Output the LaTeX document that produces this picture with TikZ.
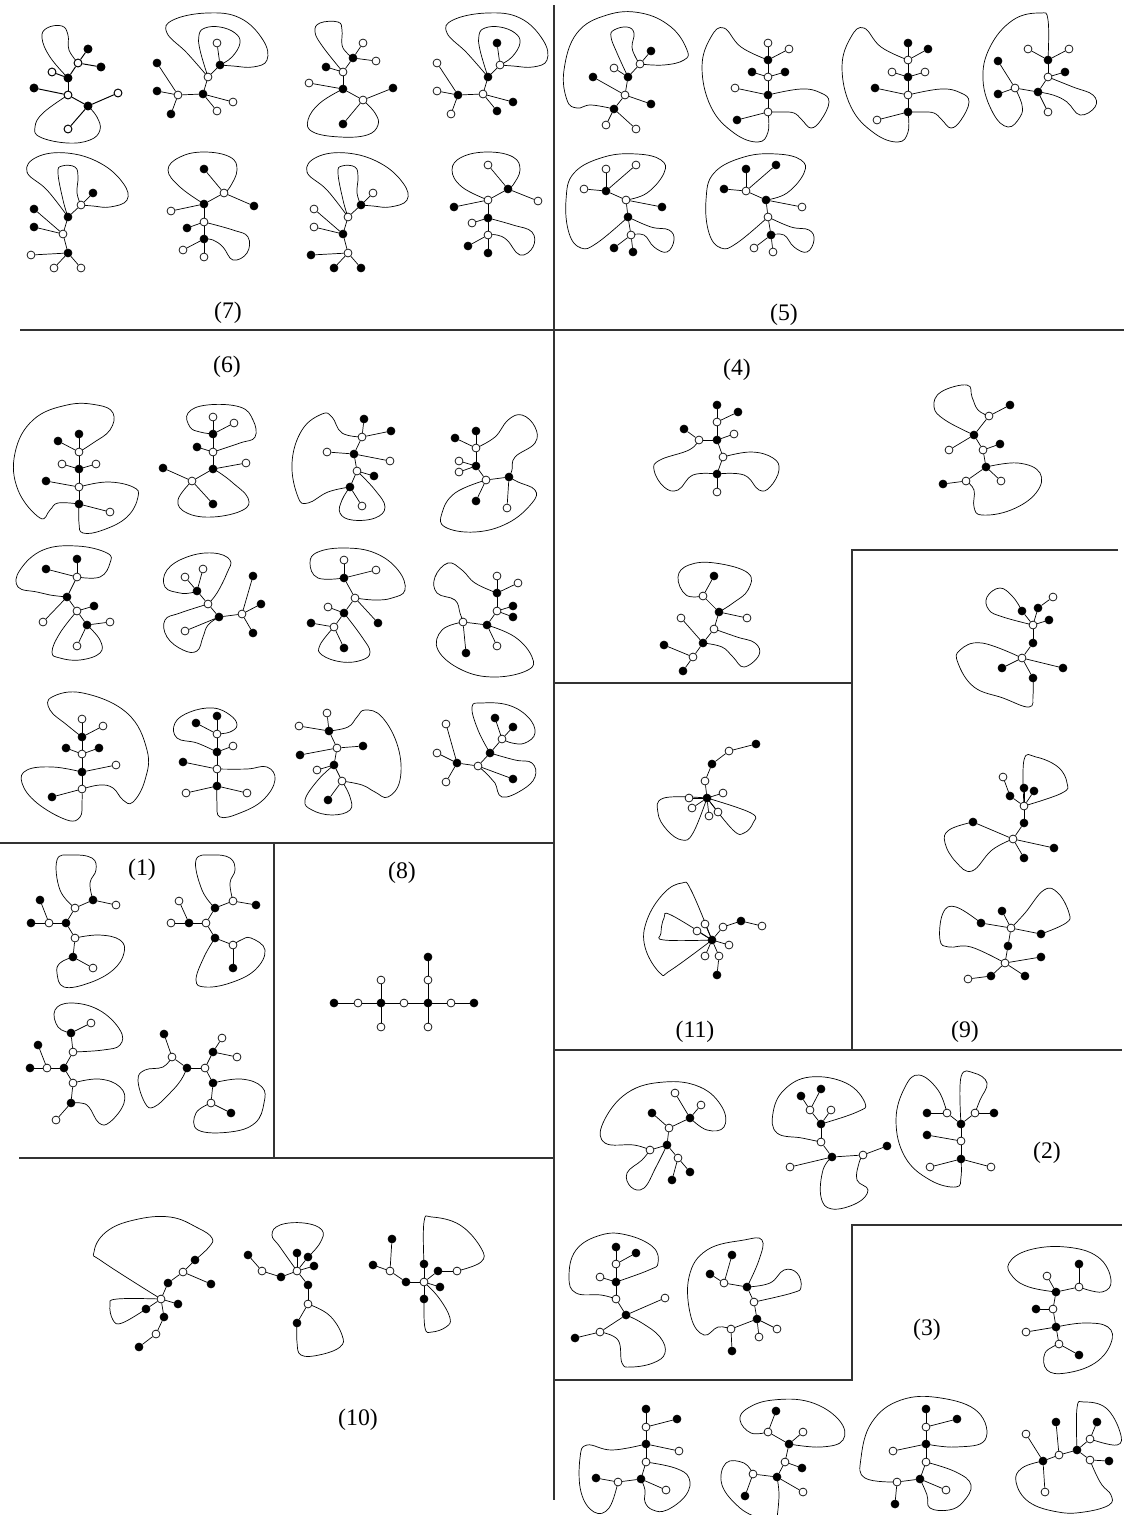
\documentclass[tikz,border=0pt]{standalone}
\usepackage{fontspec}
\setmainfont{Liberation Serif}
\pgfdeclarelayer{bg}
\pgfsetlayers{bg,main}
\tikzset{
  bv/.style={circle,draw,fill=black,inner sep=0pt,minimum size=4.5pt},
  wv/.style={circle,draw,fill=white,inner sep=0pt,minimum size=4.5pt},
  frame/.style={line width=0.8pt,black!80},
  lab/.style={font=\fontsize{13.5}{15}\selectfont},
}
% closing curve of a tree, from node #1 through #2 to node #3
\newcommand\rim[3]{\begin{pgfonlayer}{bg}\draw plot[smooth,tension=0.7] coordinates {(#1.center) #2 (#3.center)};\end{pgfonlayer}}
\begin{document}
\begin{tikzpicture}[x=0.02cm,y=-0.02cm,line width=0.55pt]
	\useasboundingbox (0,0) rectangle (1127,1515);
	%%%%%%%% frames
	\draw[frame] (554,5) -- (554,1500);
	\draw[frame] (20,330) -- (1124,330);
	\draw[frame] (0,843) -- (554,843);
	\draw[frame] (274,843) -- (274,1158);
	\draw[frame] (19,1158) -- (554,1158);
	\draw[frame] (1118,550) -- (852,550) -- (852,1050);
	\draw[frame] (554,683) -- (852,683);
	\draw[frame] (554,1050) -- (1122,1050);
	\draw[frame] (1122,1225) -- (852,1225) -- (852,1380) -- (554,1380);
	%%%%%%%% labels
	\node[lab] (l7) at (228,313) {(7)};
	\node[lab] (l5) at (784,315) {(5)};
	\node[lab] (l6) at (227,367) {(6)};
	\node[lab] (l4) at (737,370) {(4)};
	\node[lab] (l1) at (142,870) {(1)};
	\node[lab] (l8) at (402,873) {(8)};
	\node[lab] (l11) at (695,1032) {(11)};
	\node[lab] (l9) at (965,1032) {(9)};
	\node[lab] (l10) at (358,1420) {(10)};
	\node[lab] (l2) at (1047,1153) {(2)};
	\node[lab] (l3) at (927,1330) {(3)};
	%%%%%%%% (7)
	\node[wv] (w1) at (78,63) {}; \node[bv] (b1) at (88,49) {}; \node[bv] (b2) at (101,67) {};
	\node[wv] (w2) at (52,72) {}; \node[bv] (b3) at (68,78) {}; \node[bv] (b4) at (34,88) {};
	\node[wv] (w3) at (68,95) {}; \node[wv] (w4) at (118,93) {}; \node[bv] (b5) at (88,106) {};
	\node[wv] (w5) at (68,129) {};
	\foreach \u/\v in {w1/b1,w1/b2,w1/b3,w2/b3,b3/w3,b4/w3,w3/b5,b5/w4,b5/w5} \draw (\u)--(\v);
	\rim{b3}{(50,57) (42,38) (47,28) (62,26) (68,35) (69,50)}{w1}
	\rim{w3}{(43,113) (35,127) (40,137) (67,143) (90,140) (100,130) (97,117)}{b5}
	%
	\node[wv] (w0) at (217,43) {}; \node[bv] (b1) at (220,65) {}; \node[wv] (w1) at (208,77) {};
	\node[bv] (b2) at (157,63) {}; \node[bv] (b3) at (157,91) {}; \node[wv] (w2) at (178,95) {};
	\node[bv] (b4) at (171,114) {}; \node[bv] (b5) at (203,94) {}; \node[wv] (w3) at (233,102) {};
	\node[wv] (w4) at (217,111) {};
	\foreach \u/\v in {w0/b1,b1/w1,w1/b5,b5/w2,w2/b2,w2/b3,w2/b4,b5/w3,b5/w4} \draw (\u)--(\v);
	\rim{w1}{(187,53) (167,33) (173,20) (207,13) (240,18) (263,40) (267,60) (253,67) (233,66)}{b1}
	\rim{w1}{(200,50) (199,35) (205,28) (220,27) (235,33) (240,43) (232,57)}{b1}
	%
	\node[wv] (w1) at (363,43) {}; \node[bv] (b1) at (353,58) {}; \node[wv] (w2) at (376,61) {};
	\node[bv] (b2) at (326,67) {}; \node[wv] (w3) at (343,72) {}; \node[wv] (w4) at (309,83) {};
	\node[bv] (b3) at (343,89) {}; \node[bv] (b4) at (393,88) {}; \node[wv] (w5) at (363,100) {};
	\node[bv] (b5) at (343,124) {};
	\foreach \u/\v in {b1/w1,b1/w2,b1/w3,b2/w3,w3/b3,w4/b3,b3/w5,w5/b4,w5/b5} \draw (\u)--(\v);
	\rim{w3}{(323,47) (315,32) (320,23) (338,22) (342,30) (342,45) (347,53)}{b1}
	\rim{b3}{(320,103) (308,120) (313,132) (340,137) (367,135) (378,125) (375,113)}{w5}
	%
	\node[bv] (b0) at (497,43) {}; \node[wv] (w1) at (500,65) {}; \node[bv] (b1) at (488,77) {};
	\node[wv] (w2) at (437,63) {}; \node[wv] (w3) at (437,91) {}; \node[bv] (b2) at (458,95) {};
	\node[wv] (w4) at (451,114) {}; \node[wv] (w5) at (483,94) {}; \node[bv] (b3) at (513,102) {};
	\node[bv] (b4) at (497,111) {};
	\foreach \u/\v in {b0/w1,w1/b1,b1/w5,w5/b2,b2/w2,b2/w3,b2/w4,w5/b3,w5/b4} \draw (\u)--(\v);
	\rim{b1}{(467,53) (447,33) (453,20) (487,13) (520,18) (543,40) (547,60) (533,67) (513,66)}{w1}
	\rim{b1}{(480,50) (479,35) (485,28) (500,27) (515,33) (520,43) (512,57)}{w1}
	%
	\node[bv] (b1) at (93,193) {}; \node[wv] (w1) at (81,205) {}; \node[bv] (b2) at (68,217) {};
	\node[bv] (b3) at (34,209) {}; \node[bv] (b4) at (34,227) {}; \node[wv] (w2) at (63,234) {};
	\node[bv] (b5) at (68,253) {}; \node[wv] (w3) at (31,255) {}; \node[wv] (w4) at (54,268) {};
	\node[wv] (w5) at (81,268) {};
	\foreach \u/\v in {b1/w1,w1/b2,b2/w2,b3/w2,b4/w2,w2/b5,b5/w3,b5/w4,b5/w5} \draw (\u)--(\v);
	\rim{b2}{(47,190) (27,172) (37,157) (67,153) (100,163) (123,183) (127,200) (110,207) (93,206)}{w1}
	\rim{b2}{(63,200) (58,173) (62,166) (75,167) (78,177) (77,193)}{w1}
	%
	\node[bv] (b1) at (204,169) {}; \node[wv] (w1) at (224,193) {}; \node[bv] (b2) at (254,206) {};
	\node[bv] (b3) at (204,204) {}; \node[wv] (w2) at (171,211) {}; \node[wv] (w3) at (204,222) {};
	\node[bv] (b4) at (187,228) {}; \node[bv] (b5) at (204,239) {}; \node[wv] (w4) at (183,250) {};
	\node[wv] (w5) at (204,257) {};
	\foreach \u/\v in {b1/w1,w1/b2,w1/b3,b3/w2,b3/w3,w3/b4,w3/b5,b5/w4,b5/w5} \draw (\u)--(\v);
	\rim{b3}{(180,187) (168,170) (180,157) (204,152) (230,157) (237,170) (230,187)}{w1}
	\rim{w3}{(233,230) (248,237) (247,253) (233,260) (223,247) (213,240)}{b5}
	%
	\node[wv] (w1) at (373,193) {}; \node[bv] (b1) at (361,205) {}; \node[wv] (w2) at (348,217) {};
	\node[wv] (w3) at (314,209) {}; \node[wv] (w4) at (314,227) {}; \node[bv] (b2) at (343,234) {};
	\node[wv] (w5) at (348,253) {}; \node[bv] (b3) at (311,255) {}; \node[bv] (b4) at (334,268) {};
	\node[bv] (b5) at (361,268) {};
	\foreach \u/\v in {w1/b1,b1/w2,w2/b2,w3/b2,w4/b2,b2/w5,w5/b3,w5/b4,w5/b5} \draw (\u)--(\v);
	\rim{w2}{(327,190) (307,172) (317,157) (347,153) (380,163) (403,183) (407,200) (390,207) (373,206)}{b1}
	\rim{w2}{(343,200) (338,173) (342,166) (355,167) (358,177) (357,193)}{b1}
	%
	\node[wv] (w1) at (488,165) {}; \node[bv] (b1) at (508,189) {}; \node[wv] (w2) at (538,201) {};
	\node[wv] (w3) at (488,200) {}; \node[bv] (b2) at (454,207) {}; \node[wv] (w4) at (472,223) {};
	\node[bv] (b3) at (488,218) {}; \node[wv] (w5) at (488,235) {}; \node[bv] (b4) at (468,246) {};
	\node[bv] (b5) at (488,253) {};
	\foreach \u/\v in {w1/b1,b1/w2,b1/w3,w3/b2,w3/b3,b3/w4,b3/w5,w5/b4,w5/b5} \draw (\u)--(\v);
	\rim{w3}{(462,187) (452,170) (462,157) (488,152) (513,157) (520,170) (513,185)}{b1}
	\rim{b3}{(513,225) (532,232) (533,247) (520,255) (507,240) (497,235)}{w5}
	%%%%%%%% (5)
	\node[bv] (b1) at (651,51) {}; \node[wv] (w1) at (640,64) {}; \node[wv] (w2) at (614,68) {};
	\node[bv] (b2) at (628,77) {}; \node[bv] (b3) at (593,77) {}; \node[wv] (w3) at (625,95) {};
	\node[bv] (b4) at (651,104) {}; \node[bv] (b5) at (614,109) {}; \node[wv] (w4) at (606,125) {};
	\node[wv] (w5) at (636,129) {};
	\foreach \u/\v in {b1/w1,w1/b2,w2/b2,b2/w3,b3/w3,w3/b4,w3/b5,b5/w4,b5/w5} \draw (\u)--(\v);
	\rim{b5}{(591,105) (577,108) (567,100) (564,70) (577,33) (607,15) (641,13) (671,27) (687,50) (684,60) (664,65)}{w1}
	\rim{b2}{(617,53) (611,37) (614,30) (627,27) (634,33) (632,47) (636,58)}{w1}
	%
	\node[wv] (w1) at (768,43) {}; \node[wv] (w2) at (789,49) {}; \node[bv] (b1) at (768,60) {};
	\node[bv] (b2) at (752,72) {}; \node[wv] (w3) at (768,77) {}; \node[bv] (b3) at (785,72) {};
	\node[wv] (w4) at (735,88) {}; \node[bv] (b4) at (768,95) {}; \node[wv] (w5) at (768,112) {};
	\node[bv] (b5) at (737,120) {};
	\foreach \u/\v in {w1/b1,w2/b1,b1/w3,b2/w3,b3/w3,w3/b4,w4/b4,b4/w5,b5/w5} \draw (\u)--(\v);
	\rim{b1}{(741,47) (724,28) (711,37) (702,67) (711,107) (734,133) (758,142) (768,132)}{w5}
	\rim{b4}{(801,89) (821,93) (829,102) (821,120) (811,128) (802,120) (794,113) (781,112)}{w5}
	%
	\node[bv] (b1) at (908,43) {}; \node[bv] (b2) at (928,49) {}; \node[wv] (w1) at (908,60) {};
	\node[wv] (w2) at (892,72) {}; \node[bv] (b3) at (908,77) {}; \node[wv] (w3) at (925,72) {};
	\node[bv] (b4) at (875,88) {}; \node[wv] (w4) at (908,95) {}; \node[bv] (b5) at (908,112) {};
	\node[wv] (w5) at (877,120) {};
	\foreach \u/\v in {b1/w1,b2/w1,w1/b3,w2/b3,w3/b3,b3/w4,b4/w4,w4/b5,w5/b5} \draw (\u)--(\v);
	\rim{w1}{(881,47) (864,28) (851,37) (842,67) (851,107) (874,133) (898,142) (908,132)}{b5}
	\rim{w4}{(941,89) (961,93) (969,102) (961,120) (951,128) (942,120) (934,113) (921,112)}{b5}
	%
	\node[wv] (w1) at (1028,49) {}; \node[wv] (w2) at (1069,49) {}; \node[bv] (b1) at (1048,60) {};
	\node[bv] (b2) at (1065,72) {}; \node[wv] (w3) at (1048,77) {}; \node[bv] (b3) at (998,61) {};
	\node[bv] (b4) at (998,94) {}; \node[wv] (w4) at (1015,88) {}; \node[bv] (b5) at (1038,92) {};
	\node[wv] (w5) at (1048,112) {};
	\foreach \u/\v in {w1/b1,w2/b1,b1/w3,b2/w3,w3/b5,b5/w4,w4/b3,w4/b4,b5/w5} \draw (\u)--(\v);
	\rim{b1}{(1048,20) (1040,13) (1013,20) (990,47) (983,80) (993,113) (1008,127) (1020,117) (1022,105)}{w4}
	\rim{w3}{(1073,87) (1093,95) (1095,107) (1080,115) (1067,102) (1053,95)}{b5}
	%
	\node[wv] (w1) at (606,169) {}; \node[wv] (w2) at (636,165) {}; \node[wv] (w3) at (584,189) {};
	\node[bv] (b1) at (606,191) {}; \node[wv] (w4) at (626,200) {}; \node[bv] (b2) at (662,207) {};
	\node[bv] (b3) at (628,217) {}; \node[wv] (w5) at (631,235) {}; \node[bv] (b4) at (614,248) {};
	\node[bv] (b5) at (633,252) {};
	\foreach \u/\v in {w1/b1,w2/b1,w3/b1,b1/w4,w4/b2,w4/b3,b3/w5,w5/b4,w5/b5} \draw (\u)--(\v);
	\rim{w4}{(647,193) (664,173) (661,160) (637,154) (604,157) (574,173) (566,200) (569,233) (581,248) (597,243)}{b3}
	\rim{b3}{(651,227) (669,230) (674,240) (667,252) (654,247) (644,235)}{w5}
	%
	\node[bv] (b1) at (746,169) {}; \node[bv] (b2) at (776,165) {}; \node[bv] (b3) at (724,189) {};
	\node[wv] (w1) at (746,191) {}; \node[bv] (b4) at (766,200) {}; \node[wv] (w2) at (802,207) {};
	\node[wv] (w3) at (768,217) {}; \node[bv] (b5) at (771,235) {}; \node[wv] (w4) at (754,248) {};
	\node[wv] (w5) at (773,252) {};
	\foreach \u/\v in {b1/w1,b2/w1,b3/w1,w1/b4,b4/w2,b4/w3,w3/b5,b5/w4,b5/w5} \draw (\u)--(\v);
	\rim{b4}{(787,193) (804,173) (801,160) (777,154) (744,157) (714,173) (706,200) (709,233) (721,248) (737,243)}{w3}
	\rim{w3}{(791,227) (809,230) (814,240) (807,252) (794,247) (784,235)}{b5}
	%%%%%%%% (6)
	\node[bv] (b1) at (79,434) {}; \node[bv] (b2) at (58,441) {}; \node[wv] (w1) at (79,452) {};
	\node[wv] (w2) at (62,464) {}; \node[bv] (b3) at (79,469) {}; \node[wv] (w3) at (96,464) {};
	\node[bv] (b4) at (46,481) {}; \node[wv] (w4) at (79,487) {}; \node[bv] (b5) at (79,504) {};
	\node[wv] (w5) at (110,512) {};
	\foreach \u/\v in {b1/w1,b2/w1,w1/b3,w2/b3,w3/b3,b3/w4,b4/w4,w4/b5,b5/w5} \draw (\u)--(\v);
	\rim{w1}{(93,443) (110,430) (113,413) (97,405) (67,405) (33,420) (15,453) (18,490) (40,518) (50,510) (58,503)}{b5}
	\rim{w4}{(107,482) (133,487) (138,497) (127,517) (103,530) (83,533) (79,523)}{b5}
	%
	\node[wv] (w1) at (213,417) {}; \node[wv] (w2) at (234,423) {}; \node[bv] (b1) at (213,434) {};
	\node[bv] (b2) at (197,447) {}; \node[wv] (w3) at (213,452) {}; \node[wv] (w4) at (246,463) {};
	\node[bv] (b3) at (213,469) {}; \node[bv] (b4) at (163,468) {}; \node[wv] (w5) at (192,481) {};
	\node[bv] (b5) at (213,504) {};
	\foreach \u/\v in {w1/b1,w2/b1,b1/w3,b2/w3,w3/b3,w4/b3,b3/w5,b4/w5,w5/b5} \draw (\u)--(\v);
	\rim{w3}{(240,443) (255,437) (253,420) (240,407) (207,405) (188,413) (190,427) (200,432)}{b1}
	\rim{w5}{(178,500) (187,513) (213,517) (243,510) (248,498) (233,483) (220,473)}{b3}
	%
	\node[bv] (b1) at (364,419) {}; \node[bv] (b2) at (391,431) {}; \node[wv] (w1) at (362,437) {};
	\node[wv] (w2) at (327,452) {}; \node[bv] (b3) at (354,454) {}; \node[wv] (w3) at (390,461) {};
	\node[wv] (w4) at (357,471) {}; \node[bv] (b4) at (374,476) {}; \node[bv] (b5) at (350,487) {};
	\node[wv] (w5) at (362,506) {};
	\foreach \u/\v in {b1/w1,b2/w1,w1/b3,w2/b3,b3/w3,b3/w4,w4/b4,w4/b5,b5/w5} \draw (\u)--(\v);
	\rim{w1}{(342,433) (332,417) (322,414) (302,430) (292,463) (298,497) (308,503) (328,492)}{b5}
	\rim{w4}{(375,490) (385,507) (375,518) (352,520) (340,513) (342,500)}{b5}
	%
	\node[bv] (b1) at (455,438) {}; \node[bv] (b2) at (476,431) {}; \node[wv] (w1) at (476,448) {};
	\node[wv] (w2) at (459,461) {}; \node[wv] (w3) at (459,472) {}; \node[bv] (b3) at (476,466) {};
	\node[wv] (w4) at (486,480) {}; \node[bv] (b4) at (476,501) {}; \node[bv] (b5) at (509,477) {};
	\node[wv] (w5) at (507,508) {};
	\foreach \u/\v in {b1/w1,b2/w1,w1/b3,w2/b3,w3/b3,b3/w4,w4/b4,w4/b5,b5/w5} \draw (\u)--(\v);
	\rim{w1}{(495,437) (508,420) (522,415) (535,427) (535,443) (515,457) (512,470)}{b5}
	\rim{w4}{(455,493) (442,513) (445,527) (475,532) (508,523) (532,503) (535,490) (518,482)}{b5}
	%
	\node[bv] (b1) at (77,559) {}; \node[bv] (b2) at (46,569) {}; \node[wv] (w1) at (77,577) {};
	\node[bv] (b3) at (67,597) {}; \node[wv] (w2) at (43,622) {}; \node[wv] (w3) at (77,611) {};
	\node[bv] (b4) at (94,606) {}; \node[bv] (b5) at (87,625) {}; \node[wv] (w4) at (110,622) {};
	\node[wv] (w5) at (77,646) {};
	\foreach \u/\v in {b1/w1,b2/w1,w1/b3,b3/w2,b3/w3,w3/b4,w3/b5,b5/w4,b5/w5} \draw (\u)--(\v);
	\rim{w1}{(100,577) (110,563) (107,553) (77,546) (43,550) (20,570) (18,587) (37,592) (50,595)}{b3}
	\rim{w3}{(60,633) (52,652) (60,658) (80,660) (100,653) (100,640)}{b5}
	%
	\node[wv] (w1) at (185,577) {}; \node[wv] (w2) at (203,569) {}; \node[bv] (b1) at (197,591) {};
	\node[wv] (w3) at (208,604) {}; \node[bv] (b2) at (219,617) {}; \node[wv] (w4) at (185,631) {};
	\node[wv] (w5) at (242,614) {}; \node[bv] (b3) at (253,576) {}; \node[bv] (b4) at (261,604) {};
	\node[bv] (b5) at (253,633) {};
	\foreach \u/\v in {w1/b1,w2/b1,b1/w3,w3/b2,b2/w4,b2/w5,w5/b3,w5/b4,w5/b5} \draw (\u)--(\v);
	\rim{w3}{(217,593) (227,573) (230,560) (213,553) (187,557) (167,570) (165,587) (180,593) (190,593)}{b1}
	\rim{w3}{(180,613) (165,620) (167,637) (183,650) (197,651) (203,637) (208,625)}{b2}
	%
	\node[wv] (w1) at (344,560) {}; \node[wv] (w2) at (376,570) {}; \node[bv] (b1) at (344,578) {};
	\node[wv] (w3) at (355,598) {}; \node[bv] (b2) at (378,623) {}; \node[wv] (w4) at (328,607) {};
	\node[bv] (b3) at (344,613) {}; \node[bv] (b4) at (311,623) {}; \node[wv] (w5) at (334,627) {};
	\node[bv] (b5) at (344,648) {};
	\foreach \u/\v in {w1/b1,w2/b1,b1/w3,w3/b2,w3/b3,w4/b3,b3/w5,b4/w5,w5/b5} \draw (\u)--(\v);
	\rim{b1}{(318,578) (310,563) (318,552) (345,548) (375,553) (398,570) (405,590) (392,598) (375,600)}{w3}
	\rim{b3}{(362,637) (370,652) (362,660) (342,662) (322,655) (320,645)}{w5}
	%
	\node[wv] (w1) at (497,576) {}; \node[wv] (w2) at (518,583) {}; \node[bv] (b1) at (497,593) {};
	\node[wv] (w3) at (497,611) {}; \node[bv] (b2) at (513,606) {}; \node[bv] (b3) at (513,617) {};
	\node[bv] (b4) at (487,625) {}; \node[wv] (w4) at (463,622) {}; \node[bv] (b5) at (466,653) {};
	\node[wv] (w5) at (497,646) {};
	\foreach \u/\v in {w1/b1,w2/b1,b1/w3,w3/b2,w3/b3,w3/b4,b4/w4,w4/b5,b4/w5} \draw (\u)--(\v);
	\rim{b1}{(475,583) (462,570) (448,563) (435,577) (437,593) (455,600) (460,613)}{w4}
	\rim{w4}{(442,630) (438,650) (462,670) (495,677) (528,670) (532,657) (515,637)}{b4}
	%
	\node[wv] (w1) at (82,719) {}; \node[wv] (w2) at (103,726) {}; \node[bv] (b1) at (82,737) {};
	\node[bv] (b2) at (66,748) {}; \node[wv] (w3) at (82,754) {}; \node[bv] (b3) at (99,748) {};
	\node[wv] (w4) at (116,765) {}; \node[bv] (b4) at (82,772) {}; \node[wv] (w5) at (82,789) {};
	\node[bv] (b5) at (52,797) {};
	\foreach \u/\v in {w1/b1,w2/b1,b1/w3,b2/w3,b3/w3,w3/b4,w4/b4,b4/w5,b5/w5} \draw (\u)--(\v);
	\rim{b1}{(67,725) (50,710) (52,697) (83,693) (127,713) (147,750) (145,780) (133,802) (123,800) (113,788) (100,785)}{w5}
	\rim{b4}{(53,767) (27,770) (22,783) (37,803) (67,820) (80,817) (82,803)}{w5}
	%
	\node[bv] (b1) at (196,723) {}; \node[bv] (b2) at (217,716) {}; \node[wv] (w1) at (217,734) {};
	\node[bv] (b3) at (217,752) {}; \node[wv] (w2) at (233,746) {}; \node[bv] (b4) at (183,762) {};
	\node[wv] (w3) at (217,769) {}; \node[bv] (b5) at (217,786) {}; \node[wv] (w4) at (186,793) {};
	\node[wv] (w5) at (247,793) {};
	\foreach \u/\v in {b1/w1,b2/w1,w1/b3,w2/b3,b3/w3,b4/w3,w3/b5,b5/w4,b5/w5} \draw (\u)--(\v);
	\rim{b3}{(197,743) (177,738) (175,723) (190,712) (213,708) (230,715) (237,725) (230,732)}{w1}
	\rim{w3}{(247,769) (267,767) (275,780) (263,800) (240,813) (220,817) (217,803)}{b5}
	%
	\node[wv] (w1) at (327,713) {}; \node[wv] (w2) at (299,726) {}; \node[bv] (b1) at (329,731) {};
	\node[wv] (w3) at (337,748) {}; \node[bv] (b2) at (363,746) {}; \node[bv] (b3) at (300,755) {};
	\node[bv] (b4) at (334,765) {}; \node[wv] (w4) at (317,770) {}; \node[wv] (w5) at (342,781) {};
	\node[bv] (b5) at (328,800) {};
	\foreach \u/\v in {w1/b1,w2/b1,b1/w3,w3/b2,b3/w3,w3/b4,w4/b4,b4/w5,w5/b5} \draw (\u)--(\v);
	\rim{b1}{(348,727) (357,717) (365,710) (382,717) (398,747) (400,780) (388,797) (375,792) (362,785)}{w5}
	\rim{b4}{(318,780) (305,800) (312,810) (332,815) (350,810) (350,797)}{w5}
	%
	\node[wv] (w1) at (446,724) {}; \node[wv] (w2) at (437,753) {}; \node[bv] (b1) at (457,763) {};
	\node[wv] (w3) at (446,782) {}; \node[wv] (w4) at (478,766) {}; \node[bv] (b2) at (490,753) {};
	\node[wv] (w5) at (502,739) {}; \node[bv] (b3) at (495,718) {}; \node[bv] (b4) at (513,727) {};
	\node[bv] (b5) at (513,779) {};
	\foreach \u/\v in {w1/b1,w2/b1,w3/b1,b1/w4,w4/b2,b2/w5,w5/b3,w5/b4,w4/b5} \draw (\u)--(\v);
	\rim{b2}{(478,730) (472,707) (482,703) (508,705) (528,717) (535,733) (525,743) (512,743)}{w5}
	\rim{b2}{(515,760) (532,763) (535,777) (522,790) (502,797) (495,783) (488,775)}{w4}
	%%%%%%%% (4)
	\node[bv] (b1) at (717,405) {}; \node[bv] (b2) at (738,412) {}; \node[wv] (w1) at (717,422) {};
	\node[bv] (b3) at (684,429) {}; \node[wv] (w2) at (699,440) {}; \node[bv] (b4) at (717,440) {};
	\node[wv] (w3) at (734,434) {}; \node[wv] (w4) at (723,457) {}; \node[bv] (b5) at (717,474) {};
	\node[wv] (w5) at (717,492) {};
	\foreach \u/\v in {b1/w1,b2/w1,w1/b4,w2/b4,w3/b4,b3/w2,b4/w4,w4/b5,b5/w5} \draw (\u)--(\v);
	\rim{w2}{(689,450) (660,460) (654,470) (664,487) (678,490) (693,475)}{b5}
	\rim{w4}{(751,452) (773,458) (779,470) (770,487) (759,490) (744,475)}{b5}
	%
	\node[bv] (b1) at (1010,405) {}; \node[wv] (w1) at (989,416) {}; \node[bv] (b2) at (974,435) {};
	\node[wv] (w2) at (949,450) {}; \node[wv] (w3) at (983,450) {}; \node[bv] (b3) at (1000,444) {};
	\node[bv] (b4) at (986,467) {}; \node[wv] (w4) at (966,481) {}; \node[bv] (b5) at (943,484) {};
	\node[wv] (w5) at (1001,481) {};
	\foreach \u/\v in {b1/w1,w1/b2,b2/w2,b2/w3,w3/b3,w3/b4,b4/w4,w4/b5,b4/w5} \draw (\u)--(\v);
	\rim{b2}{(945,420) (934,407) (941,392) (967,385) (972,397) (978,410)}{w1}
	\rim{b4}{(1018,463) (1040,473) (1036,493) (1011,510) (982,515) (974,507) (974,490)}{w4}
	%
	\node[bv] (b1) at (714,576) {}; \node[wv] (w1) at (703,596) {}; \node[bv] (b2) at (719,612) {};
	\node[wv] (w2) at (747,618) {}; \node[wv] (w3) at (681,618) {}; \node[wv] (w4) at (714,629) {};
	\node[bv] (b3) at (703,643) {}; \node[bv] (b4) at (664,645) {}; \node[wv] (w5) at (693,657) {};
	\node[bv] (b5) at (683,671) {};
	\foreach \u/\v in {b1/w1,w1/b2,b2/w2,b2/w4,w4/b3,w3/b3,b3/w5,b4/w5,w5/b5} \draw (\u)--(\v);
	\rim{w1}{(686,595) (678,577) (689,565) (715,563) (748,573) (748,590) (733,603)}{b2}
	\rim{w4}{(737,637) (755,643) (759,655) (744,667) (733,657) (722,647)}{b3}
	%%%%%%%% (9)
	\node[wv] (w1) at (1053,597) {}; \node[bv] (b1) at (1038,608) {}; \node[bv] (b2) at (1022,611) {};
	\node[bv] (b3) at (1049,620) {}; \node[wv] (w2) at (1033,625) {}; \node[bv] (b4) at (1033,643) {};
	\node[wv] (w3) at (1022,658) {}; \node[bv] (b5) at (1002,668) {}; \node[bv] (b6) at (1063,668) {};
	\node[bv] (b7) at (1033,678) {};
	\foreach \u/\v in {w1/b1,b1/w2,b2/w2,b3/w2,w2/b4,b4/w3,w3/b5,w3/b6,w3/b7} \draw (\u)--(\v);
	\rim{w2}{(1003,617) (989,610) (987,597) (1000,588) (1013,597)}{b2}
	\rim{w3}{(982,643) (960,650) (958,663) (974,687) (1003,698) (1029,707) (1033,695)}{b7}
	%
	\node[wv] (w1) at (1003,777) {}; \node[bv] (b1) at (1010,796) {}; \node[bv] (b2) at (1024,788) {};
	\node[bv] (b3) at (1034,791) {}; \node[wv] (w2) at (1024,806) {}; \node[bv] (b4) at (1024,823) {};
	\node[wv] (w3) at (1013,839) {}; \node[bv] (b5) at (973,822) {}; \node[bv] (b6) at (1054,848) {};
	\node[bv] (b7) at (1024,858) {};
	\foreach \u/\v in {w1/b1,b1/w2,b2/w2,b3/w2,w2/b4,b4/w3,w3/b5,w3/b6,w3/b7} \draw (\u)--(\v);
	\rim{w2}{(1024,760) (1036,757) (1058,767) (1067,783) (1062,793)}{w2}
	\rim{b5}{(949,830) (945,843) (956,862) (972,871) (992,850)}{w3}
	%
	\node[bv] (b1) at (1002,911) {}; \node[bv] (b2) at (981,923) {}; \node[wv] (w1) at (1011,928) {};
	\node[bv] (b3) at (1041,934) {}; \node[bv] (b4) at (1008,946) {}; \node[wv] (w2) at (1005,963) {};
	\node[bv] (b5) at (1041,957) {}; \node[bv] (b6) at (1025,976) {}; \node[bv] (b7) at (991,976) {};
	\node[wv] (w3) at (968,979) {};
	\foreach \u/\v in {b1/w1,b2/w1,w1/b3,w1/b4,b4/w2,w2/b5,w2/b6,w2/b7,b7/w3} \draw (\u)--(\v);
	\rim{b2}{(956,907) (943,913) (940,940) (949,947) (971,947)}{w2}
	\rim{w1}{(1025,913) (1044,890) (1058,893) (1069,913) (1066,923)}{b3}
	%%%%%%%% (11)
	\node[bv] (b1) at (756,744) {}; \node[wv] (w1) at (729,751) {}; \node[bv] (b2) at (712,764) {};
	\node[wv] (w2) at (705,781) {}; \node[bv] (b3) at (707,798) {}; \node[wv] (w3) at (689,798) {};
	\node[wv] (w4) at (692,808) {}; \node[wv] (w5) at (723,793) {}; \node[wv] (w6) at (709,816) {};
	\node[wv] (w7) at (718,812) {};
	\foreach \u/\v in {b1/w1,w1/b2,b2/w2,w2/b3,b3/w3,b3/w4,b3/w5,b3/w6,b3/w7} \draw (\u)--(\v);
	\rim{b3}{(664,798) (658,813) (667,830) (682,840) (693,833)}{b3}
	\rim{b3}{(751,813) (753,823) (744,833) (733,830)}{b3}
	%
	\node[bv] (b1) at (712,940) {}; \node[wv] (w1) at (705,924) {}; \node[wv] (w2) at (697,931) {};
	\node[wv] (w3) at (723,927) {}; \node[bv] (b2) at (741,921) {}; \node[wv] (w4) at (762,926) {};
	\node[wv] (w5) at (729,945) {}; \node[wv] (w6) at (705,956) {}; \node[wv] (w7) at (719,956) {};
	\node[bv] (b3) at (717,975) {};
	\foreach \u/\v in {b1/w1,b1/w2,b1/w3,w3/b2,b2/w4,b1/w5,b1/w6,b1/w7,w7/b3} \draw (\u)--(\v);
	\rim{b1}{(691,890) (682,883) (664,893) (647,920) (645,947) (660,973) (671,970)}{b1}
	\rim{b1}{(664,940) (661,933) (664,918) (671,915)}{b1}
	%%%%%%%% (1)
	\node[bv] (b1) at (40,900) {}; \node[bv] (b2) at (31,923) {}; \node[wv] (w1) at (49,923) {};
	\node[bv] (b3) at (66,923) {}; \node[wv] (w2) at (75,908) {}; \node[bv] (b4) at (93,900) {};
	\node[wv] (w3) at (116,905) {}; \node[wv] (w4) at (75,938) {}; \node[bv] (b5) at (73,957) {};
	\node[wv] (w5) at (93,968) {};
	\foreach \u/\v in {b1/w1,b2/w1,w1/b3,b3/w2,w2/b4,b4/w3,b3/w4,w4/b5,b5/w5} \draw (\u)--(\v);
	\rim{w2}{(60,890) (57,860) (71,855) (92,858) (96,870) (90,883)}{b4}
	\rim{w4}{(99,935) (120,940) (124,953) (113,970) (89,983) (64,987) (57,973) (60,963)}{b5}
	%
	\node[wv] (w1) at (179,901) {}; \node[wv] (w2) at (171,923) {}; \node[bv] (b1) at (189,923) {};
	\node[wv] (w3) at (206,923) {}; \node[bv] (b2) at (215,908) {}; \node[wv] (w4) at (233,901) {};
	\node[bv] (b3) at (256,905) {}; \node[bv] (b4) at (215,938) {}; \node[wv] (w5) at (233,945) {};
	\node[bv] (b5) at (233,968) {};
	\foreach \u/\v in {w1/b1,w2/b1,b1/w3,w3/b2,b2/w4,w4/b3,w3/b4,b4/w5,w5/b5} \draw (\u)--(\v);
	\rim{b2}{(202,890) (196,860) (212,855) (230,858) (235,870) (230,883)}{w4}
	\rim{b4}{(204,957) (196,980) (205,987) (230,983) (255,970) (265,950) (251,938) (241,940)}{w5}
	%
	\node[bv] (b1) at (71,1033) {}; \node[wv] (w1) at (91,1023) {}; \node[bv] (b2) at (38,1045) {};
	\node[bv] (b3) at (30,1068) {}; \node[wv] (w2) at (47,1068) {}; \node[bv] (b4) at (64,1068) {};
	\node[wv] (w3) at (73,1052) {}; \node[wv] (w4) at (73,1083) {}; \node[bv] (b5) at (71,1103) {};
	\node[wv] (w5) at (56,1120) {};
	\foreach \u/\v in {b1/w1,b1/w3,w3/b4,w2/b4,b2/w2,b3/w2,b4/w4,w4/b5,b5/w5} \draw (\u)--(\v);
	\rim{b1}{(58,1027) (55,1010) (71,1003) (99,1010) (120,1030) (120,1045) (103,1050)}{w3}
	\rim{w4}{(99,1079) (120,1087) (124,1103) (110,1122) (99,1123) (89,1107) (81,1103)}{b5}
	%
	\node[bv] (b1) at (164,1034) {}; \node[wv] (w1) at (172,1057) {}; \node[bv] (b2) at (187,1068) {};
	\node[wv] (w2) at (205,1068) {}; \node[bv] (b3) at (213,1052) {}; \node[wv] (w3) at (222,1038) {};
	\node[wv] (w4) at (237,1057) {}; \node[bv] (b4) at (213,1083) {}; \node[wv] (w5) at (211,1103) {};
	\node[bv] (b5) at (231,1113) {};
	\foreach \u/\v in {b1/w1,w1/b2,b2/w2,w2/b3,b3/w3,b3/w4,w2/b4,b4/w5,w5/b5} \draw (\u)--(\v);
	\rim{w1}{(163,1067) (145,1070) (138,1080) (145,1103) (154,1107) (170,1093) (181,1080)}{b2}
	\rim{b4}{(241,1079) (262,1087) (264,1103) (255,1123) (230,1132) (198,1130) (196,1113)}{w5}
	%%%%%%%% (8)
	\node[bv] (b1) at (334,1003) {}; \node[wv] (w1) at (358,1003) {}; \node[bv] (b2) at (381,1003) {};
	\node[wv] (w2) at (381,980) {}; \node[wv] (w3) at (381,1027) {}; \node[wv] (w4) at (404,1003) {};
	\node[bv] (b3) at (428,1003) {}; \node[wv] (w5) at (428,980) {}; \node[bv] (b4) at (428,957) {};
	\node[wv] (w6) at (428,1027) {}; \node[wv] (w7) at (451,1003) {}; \node[bv] (b5) at (474,1003) {};
	\foreach \u/\v in {b1/w1,w1/b2,b2/w2,b2/w3,b2/w4,w4/b3,b3/w5,w5/b4,b3/w6,b3/w7,w7/b5} \draw (\u)--(\v);
	%%%%%%%% (10)
	\node[wv] (w1) at (161,1299) {}; \node[bv] (b1) at (168,1283) {}; \node[wv] (w2) at (183,1272) {};
	\node[bv] (b2) at (195,1260) {}; \node[bv] (b3) at (211,1284) {}; \node[bv] (b4) at (178,1304) {};
	\node[bv] (b5) at (146,1309) {}; \node[bv] (b6) at (164,1317) {}; \node[wv] (w3) at (156,1334) {};
	\node[bv] (b7) at (139,1347) {};
	\foreach \u/\v in {w1/b1,b1/w2,w2/b2,w2/b3,w1/b4,w1/b5,w1/b6,b6/w3,w3/b7} \draw (\u)--(\v);
	\rim{w1}{(103,1262) (94,1252) (106,1232) (134,1220) (170,1217) (198,1228) (212,1238) (209,1247)}{b2}
	\rim{w1}{(117,1299) (110,1305) (113,1320) (122,1323)}{b5}
	%
	\node[wv] (w1) at (297,1271) {}; \node[bv] (b1) at (297,1253) {}; \node[bv] (b2) at (308,1257) {};
	\node[bv] (b3) at (314,1266) {}; \node[bv] (b4) at (281,1277) {}; \node[wv] (w2) at (262,1271) {};
	\node[bv] (b5) at (248,1255) {}; \node[bv] (b6) at (308,1285) {}; \node[wv] (w3) at (308,1304) {};
	\node[bv] (b7) at (297,1323) {};
	\foreach \u/\v in {w1/b1,w1/b2,w1/b3,w1/b4,b4/w2,w2/b5,w1/b6,b6/w3,w3/b7} \draw (\u)--(\v);
	\rim{w1}{(280,1247) (272,1235) (280,1225) (304,1223) (322,1230) (320,1243)}{b2}
	\rim{w3}{(329,1315) (342,1335) (340,1347) (319,1355) (301,1355) (297,1342)}{b7}
	%
	\node[wv] (w1) at (424,1282) {}; \node[bv] (b1) at (392,1239) {}; \node[bv] (b2) at (373,1265) {};
	\node[wv] (w2) at (390,1271) {}; \node[bv] (b3) at (406,1282) {}; \node[bv] (b4) at (424,1264) {};
	\node[bv] (b5) at (438,1271) {}; \node[wv] (w3) at (457,1271) {}; \node[bv] (b6) at (440,1287) {};
	\node[bv] (b7) at (424,1299) {};
	\foreach \u/\v in {b1/w2,b2/w2,w2/b3,b3/w1,w1/b4,w1/b5,b5/w3,w1/b6,w1/b7} \draw (\u)--(\v);
	\rim{b4}{(424,1222) (432,1217) (460,1225) (481,1248) (481,1262)}{w3}
	\rim{w1}{(439,1298) (450,1318) (446,1327) (432,1332) (425,1328)}{b7}
	%%%%%%%% (2)
	\node[wv] (w1) at (675,1093) {}; \node[wv] (w2) at (701,1105) {}; \node[bv] (b1) at (652,1113) {};
	\node[bv] (b2) at (690,1118) {}; \node[wv] (w3) at (669,1128) {}; \node[bv] (b3) at (667,1145) {};
	\node[wv] (w4) at (650,1150) {}; \node[wv] (w5) at (678,1158) {}; \node[bv] (b4) at (690,1172) {};
	\node[bv] (b5) at (672,1180) {};
	\foreach \u/\v in {w1/b2,w2/b2,b2/w3,b1/w3,w3/b3,b3/w4,b3/w5,w5/b4,w5/b5} \draw (\u)--(\v);
	\rim{w4}{(634,1145) (605,1143) (603,1123) (627,1093) (664,1082) (700,1087) (722,1107) (724,1127) (707,1130)}{b2}
	\rim{w4}{(642,1160) (627,1173) (631,1187) (644,1188) (656,1167)}{b3}
	%
	\node[bv] (b1) at (801,1096) {}; \node[bv] (b2) at (821,1089) {}; \node[wv] (w1) at (810,1110) {};
	\node[wv] (w2) at (831,1110) {}; \node[bv] (b3) at (821,1124) {}; \node[wv] (w3) at (821,1142) {};
	\node[bv] (b4) at (832,1157) {}; \node[wv] (w4) at (790,1167) {}; \node[wv] (w5) at (863,1155) {};
	\node[bv] (b5) at (887,1146) {};
	\foreach \u/\v in {b1/w1,b2/w1,w1/b3,w2/b3,b3/w3,w3/b4,b4/w4,b4/w5,w5/b5} \draw (\u)--(\v);
	\rim{w3}{(802,1138) (777,1133) (773,1113) (784,1090) (810,1077) (846,1083) (865,1103) (857,1112)}{b3}
	\rim{b4}{(823,1170) (821,1197) (832,1209) (857,1203) (868,1190) (857,1180) (859,1163)}{w5}
	%
	\node[bv] (b1) at (927,1113) {}; \node[wv] (w1) at (947,1113) {}; \node[bv] (b2) at (961,1124) {};
	\node[wv] (w2) at (975,1113) {}; \node[bv] (b3) at (994,1113) {}; \node[bv] (b4) at (927,1135) {};
	\node[wv] (w3) at (961,1141) {}; \node[bv] (b5) at (961,1159) {}; \node[wv] (w4) at (930,1167) {};
	\node[wv] (w5) at (991,1167) {};
	\foreach \u/\v in {b1/w1,w1/b2,b2/w2,w2/b3,b2/w3,b4/w3,w3/b5,b5/w4,b5/w5} \draw (\u)--(\v);
	\rim{w1}{(938,1090) (919,1075) (905,1087) (896,1120) (905,1157) (930,1180) (956,1187) (961,1177)}{b5}
	\rim{b2}{(961,1077) (974,1073) (987,1083) (980,1100)}{w2}
	%
	\node[bv] (b1) at (616,1247) {}; \node[bv] (b2) at (636,1253) {}; \node[wv] (w1) at (616,1264) {};
	\node[wv] (w2) at (600,1277) {}; \node[bv] (b3) at (616,1282) {}; \node[wv] (w3) at (616,1299) {};
	\node[bv] (b4) at (626,1315) {}; \node[wv] (w4) at (665,1298) {}; \node[wv] (w5) at (600,1332) {};
	\node[bv] (b5) at (575,1338) {};
	\foreach \u/\v in {b1/w1,b2/w1,w1/b3,w2/b3,b3/w3,w3/b4,b4/w4,b4/w5,w5/b5} \draw (\u)--(\v);
	\rim{w3}{(601,1295) (576,1293) (569,1277) (576,1250) (601,1235) (627,1235) (653,1247) (658,1263) (649,1270)}{b3}
	\rim{w5}{(618,1340) (622,1363) (631,1367) (653,1363) (665,1353) (660,1337) (642,1323)}{b4}
	%
	\node[bv] (b1) at (732,1255) {}; \node[bv] (b2) at (710,1274) {}; \node[wv] (w1) at (724,1283) {};
	\node[bv] (b3) at (747,1287) {}; \node[wv] (w2) at (754,1302) {}; \node[bv] (b4) at (757,1319) {};
	\node[wv] (w3) at (731,1329) {}; \node[bv] (b5) at (732,1351) {}; \node[wv] (w4) at (759,1337) {};
	\node[wv] (w5) at (777,1329) {};
	\foreach \u/\v in {b1/w1,b2/w1,w1/b3,b3/w2,w2/b4,b4/w3,w3/b5,b4/w4,b4/w5} \draw (\u)--(\v);
	\rim{b3}{(759,1260) (762,1240) (744,1240) (707,1250) (689,1277) (691,1317) (704,1335) (718,1327)}{w3}
	\rim{b3}{(770,1283) (784,1270) (797,1273) (801,1287) (792,1293)}{w2}
	%%%%%%%% (3)
	\node[bv] (b1) at (1079,1264) {}; \node[wv] (w1) at (1047,1276) {}; \node[wv] (w2) at (1079,1287) {};
	\node[bv] (b2) at (1056,1292) {}; \node[bv] (b3) at (1036,1309) {}; \node[wv] (w3) at (1053,1309) {};
	\node[bv] (b4) at (1056,1327) {}; \node[wv] (w4) at (1026,1332) {}; \node[wv] (w5) at (1059,1344) {};
	\node[bv] (b5) at (1079,1355) {};
	\foreach \u/\v in {b1/w2,w2/b2,w1/b2,b2/w3,b3/w3,w3/b4,w4/b4,b4/w5,w5/b5} \draw (\u)--(\v);
	\rim{b2}{(1029,1287) (1013,1277) (1009,1263) (1029,1250) (1066,1247) (1098,1257) (1111,1280) (1102,1292)}{w2}
	\rim{b4}{(1084,1323) (1108,1327) (1111,1343) (1095,1363) (1066,1373) (1047,1370) (1045,1353)}{w5}
	%
	\node[bv] (b1) at (646,1409) {}; \node[bv] (b2) at (677,1419) {}; \node[wv] (w1) at (646,1427) {};
	\node[bv] (b3) at (646,1444) {}; \node[wv] (w2) at (679,1451) {}; \node[wv] (w3) at (646,1462) {};
	\node[bv] (b4) at (641,1479) {}; \node[wv] (w4) at (618,1482) {}; \node[bv] (b5) at (596,1478) {};
	\node[wv] (w5) at (666,1490) {};
	\foreach \u/\v in {b1/w1,b2/w1,w1/b3,b3/w2,b3/w3,w3/b4,b4/w4,w4/b5,b4/w5} \draw (\u)--(\v);
	\rim{b3}{(612,1450) (587,1445) (580,1458) (581,1492) (594,1512) (609,1508)}{w4}
	\rim{w3}{(675,1468) (689,1478) (686,1495) (667,1510) (653,1510) (645,1502) (645,1490)}{b4}
	%
	\node[bv] (b1) at (776,1411) {}; \node[wv] (w1) at (768,1432) {}; \node[wv] (w2) at (803,1432) {};
	\node[bv] (b2) at (789,1444) {}; \node[wv] (w3) at (785,1462) {}; \node[bv] (b3) at (802,1468) {};
	\node[bv] (b4) at (777,1477) {}; \node[wv] (w4) at (753,1474) {}; \node[bv] (b5) at (745,1496) {};
	\node[wv] (w5) at (803,1492) {};
	\coordinate (e1) at (759,1518); \coordinate (e2) at (777,1518);
	\foreach \u/\v in {b1/w1,w1/b2,w2/b2,b2/w3,w3/b3,w3/b4,b4/w4,w4/b5,b4/w5} \draw (\u)--(\v);
	\rim{w1}{(751,1433) (740,1420) (748,1408) (773,1400) (810,1402) (839,1420) (843,1440) (821,1447)}{b2}
	\rim{w4}{(744,1463) (726,1463) (722,1485) (740,1508)}{e1}
	\rim{b4}{(779,1495)}{e2}
	%
	\node[bv] (b1) at (926,1409) {}; \node[bv] (b2) at (957,1419) {}; \node[wv] (w1) at (926,1427) {};
	\node[wv] (w2) at (893,1451) {}; \node[bv] (b3) at (926,1444) {}; \node[wv] (w3) at (926,1462) {};
	\node[bv] (b4) at (920,1479) {}; \node[wv] (w4) at (897,1482) {}; \node[bv] (b5) at (895,1504) {};
	\node[wv] (w5) at (946,1490) {};
	\foreach \u/\v in {b1/w1,b2/w1,w1/b3,w2/b3,b3/w3,w3/b4,b4/w4,w4/b5,b4/w5} \draw (\u)--(\v);
	\rim{b3}{(956,1447) (985,1440) (978,1412) (941,1398) (901,1400) (872,1422) (861,1458) (865,1478)}{w4}
	\rim{w3}{(956,1472) (971,1485) (963,1502) (949,1510) (930,1508) (927,1495)}{b4}
	%
	\node[wv] (w1) at (1026,1434) {}; \node[bv] (b1) at (1056,1422) {}; \node[bv] (b2) at (1097,1422) {};
	\node[wv] (w2) at (1090,1439) {}; \node[bv] (b3) at (1077,1450) {}; \node[wv] (w3) at (1059,1455) {};
	\node[bv] (b4) at (1043,1461) {}; \node[wv] (w4) at (1090,1460) {}; \node[bv] (b5) at (1109,1461) {};
	\node[wv] (w5) at (1045,1492) {};
	\foreach \u/\v in {w1/b4,b1/w3,b4/w3,w3/b3,b3/w2,w2/b2,b3/w4,w4/b5,b4/w5} \draw (\u)--(\v);
	\rim{b3}{(1077,1408) (1084,1402) (1106,1408) (1120,1432) (1117,1445)}{w2}
	\rim{b4}{(1022,1468) (1016,1482) (1029,1502) (1058,1512) (1084,1512) (1109,1505) (1111,1495) (1102,1485) (1095,1472)}{w4}
\end{tikzpicture}
\end{document}
